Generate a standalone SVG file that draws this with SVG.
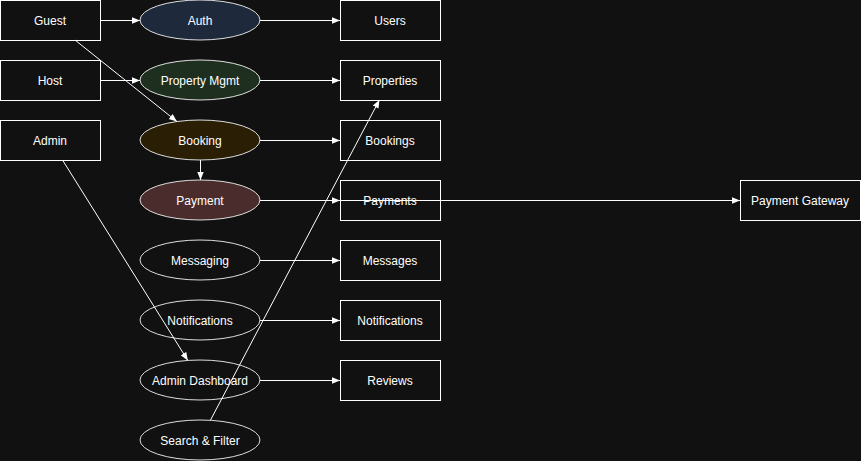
<svg xmlns="http://www.w3.org/2000/svg" width="861" height="461" viewBox="0 0 861 461">
<defs>
<marker id="arr" viewBox="0 0 10 10" refX="10" refY="5" markerWidth="8" markerHeight="8" markerUnits="userSpaceOnUse" orient="auto">
<path d="M0,1 L10,5 L0,9 Z" fill="#ffffff"/>
</marker>
<style>
.box{fill:#111111;stroke:#ffffff;stroke-width:1}
.ell{stroke:#dddddd;stroke-width:1}
.e0{fill:#111111}
text{font-family:"Liberation Sans",Arial,sans-serif;font-size:12px;fill:#ffffff;text-anchor:middle;dominant-baseline:central}
.edge{stroke:#ffffff;stroke-width:1;fill:none;marker-end:url(#arr)}
</style>
</defs>
<rect width="861" height="461" fill="#111111"/>
<g id="guest"><rect class="box" x="0.5" y="0.5" width="100" height="40"/><text x="50" y="21">Guest</text></g>
<g id="host"><rect class="box" x="0.5" y="60.5" width="100" height="40"/><text x="50" y="81">Host</text></g>
<g id="admin"><rect class="box" x="0.5" y="120.5" width="100" height="40"/><text x="50" y="141">Admin</text></g>
<g id="auth"><ellipse class="ell" cx="200" cy="20" rx="60" ry="20" fill="#1e293b"/><text x="200" y="21">Auth</text></g>
<g id="propmgmt"><ellipse class="ell" cx="200" cy="80" rx="60" ry="20" fill="#1f2f1f"/><text x="200" y="81">Property Mgmt</text></g>
<g id="booking"><ellipse class="ell" cx="200" cy="140" rx="60" ry="20" fill="#2a1f05"/><text x="200" y="141">Booking</text></g>
<g id="payment"><ellipse class="ell" cx="200" cy="200" rx="60" ry="20" fill="#4a2c2c"/><text x="200" y="201">Payment</text></g>
<g id="messaging"><ellipse class="ell e0" cx="200" cy="260" rx="60" ry="20"/><text x="200" y="261">Messaging</text></g>
<g id="notif"><ellipse class="ell e0" cx="200" cy="320" rx="60" ry="20"/><text x="200" y="321">Notifications</text></g>
<g id="admindash"><ellipse class="ell e0" cx="200" cy="380" rx="60" ry="20"/><text x="200" y="381">Admin Dashboard</text></g>
<g id="search"><ellipse class="ell e0" cx="200" cy="440" rx="60" ry="20"/><text x="200" y="441">Search &amp; Filter</text></g>
<g id="users"><rect class="box" x="340.5" y="0.5" width="100" height="40"/><text x="390" y="21">Users</text></g>
<g id="properties"><rect class="box" x="340.5" y="60.5" width="100" height="40"/><text x="390" y="81">Properties</text></g>
<g id="bookings"><rect class="box" x="340.5" y="120.5" width="100" height="40"/><text x="390" y="141">Bookings</text></g>
<g id="payments"><rect class="box" x="340.5" y="180.5" width="100" height="40"/><text x="390" y="201">Payments</text></g>
<g id="messages"><rect class="box" x="340.5" y="240.5" width="100" height="40"/><text x="390" y="261">Messages</text></g>
<g id="notifications"><rect class="box" x="340.5" y="300.5" width="100" height="40"/><text x="390" y="321">Notifications</text></g>
<g id="reviews"><rect class="box" x="340.5" y="360.5" width="100" height="40"/><text x="390" y="381">Reviews</text></g>
<g id="gateway"><rect class="box" x="740.5" y="180.5" width="120" height="40"/><text x="800" y="201">Payment Gateway</text></g>
<g id="connectors">
<line class="edge" x1="100" y1="20.5" x2="140" y2="20.5"/>
<line class="edge" x1="75" y1="40" x2="176.9" y2="121.5"/>
<line class="edge" x1="100" y1="80.5" x2="140" y2="80.5"/>
<line class="edge" x1="62.5" y1="160" x2="187.8" y2="360.4"/>
<line class="edge" x1="260" y1="20.5" x2="340" y2="20.5"/>
<line class="edge" x1="260" y1="80.5" x2="340" y2="80.5"/>
<line class="edge" x1="260" y1="140.5" x2="340" y2="140.5"/>
<line class="edge" x1="200.5" y1="160" x2="200.5" y2="180"/>
<line class="edge" x1="260" y1="200.5" x2="340" y2="200.5"/>
<line class="edge" x1="260" y1="200.5" x2="740" y2="200.5"/>
<line class="edge" x1="260" y1="260.5" x2="340" y2="260.5"/>
<line class="edge" x1="260" y1="320.5" x2="340" y2="320.5"/>
<line class="edge" x1="260" y1="380.5" x2="340" y2="380.5"/>
<line class="edge" x1="210.4" y1="420.3" x2="379.4" y2="100"/>
</g>
</svg>
